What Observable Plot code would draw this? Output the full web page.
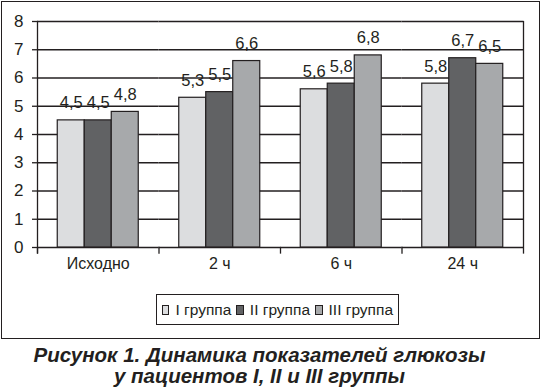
<!DOCTYPE html>
<html>
<head>
<meta charset="utf-8">
<script src="https://cdn.jsdelivr.net/npm/d3@7"></script>
<script src="https://cdn.jsdelivr.net/npm/@observablehq/plot@0.6"></script>
<style>
  html, body { margin: 0; padding: 0; background: #fff; }
  body { width: 543px; height: 391px; position: relative; overflow: hidden; font-family: "Liberation Sans", Arial, sans-serif; color: #231f20; }
  #box { position: absolute; left: 1px; top: 1px; width: 539px; height: 338px; border: 1.5px solid #231f20; box-sizing: border-box; pointer-events: none; }
  #chart { position: absolute; left: 0; top: 0; }
  #legend { position: absolute; left: 156px; top: 294px; width: 243px; height: 31px; border: 1.5px solid #231f20; box-sizing: border-box; display: flex; align-items: center; padding-left: 5px; font-size: 15.5px; background: #fff; white-space: nowrap; }
  #legend .sw { display: inline-block; width: 8px; height: 8px; border: 1px solid #231f20; margin-right: 6px; }
  #legend .lab { margin-right: 5px; }
  #caption { position: absolute; left: 0; top: 344px; width: 519px; text-align: center; font-weight: bold; font-style: italic; font-size: 20.5px; line-height: 21px; }
</style>
</head>
<body>
<div id="chart"></div>
<div id="box"></div>
<div id="legend"></div>
<div id="caption">Рисунок 1. Динамика показателей глюкозы<br>у пациентов I, II и III группы</div>
<script>
const categories = ["Исходно", "2 ч", "6 ч", "24 ч"];
const groups = ["I группа", "II группа", "III группа"];
const group1 = [4.5, 5.3, 5.6, 5.8];
const group2 = [4.5, 5.5, 5.8, 6.7];
const group3 = [4.8, 6.6, 6.8, 6.5];
const yTicks = [0, 1, 2, 3, 4, 5, 6, 7, 8];
const colors = ["#dcdddf", "#616264", "#a7a9ab"];
const ink = "#231f20";

const series = [group1, group2, group3];
const data = categories.flatMap((c, i) =>
  series.map((s, g) => ({category: c, group: groups[g], value: s[i]}))
);
const fmt = (v) => String(v).replace(".", ",");

const chart = Plot.plot({
  width: 543,
  height: 338,
  marginTop: 21,
  marginLeft: 37,
  marginRight: 20,
  marginBottom: 91,
  style: {fontFamily: "'Liberation Sans', Arial, sans-serif", fontSize: "16px", color: ink, background: "transparent", overflow: "visible"},
  fx: {domain: categories, padding: 0, round: false, label: null},
  x: {domain: groups, paddingInner: 0, paddingOuter: 0.75, round: false, axis: null},
  y: {domain: [0, 8]},
  color: {domain: groups, range: colors},
  marks: [
    Plot.ruleY(yTicks, {stroke: ink, strokeWidth: 1.3}),
    Plot.frame({anchor: "left", facetAnchor: "left", stroke: ink, strokeWidth: 1.3, insetBottom: -5.5}),
    Plot.frame({anchor: "right", facetAnchor: "right", stroke: ink, strokeWidth: 1.3, insetBottom: -5.5}),
    Plot.frame({anchor: "left", stroke: ink, strokeWidth: 1.3, insetTop: 226, insetBottom: -5.5}),
    Plot.barY(data, {fx: "category", x: "group", y: "value", fill: "group", stroke: ink, strokeWidth: 1.2}),
    Plot.text(data, {fx: "category", x: "group", y: "value", text: (d) => fmt(d.value), lineAnchor: "bottom", dy: -12, fontSize: 16.5, fill: ink}),
    Plot.axisY({ticks: yTicks, tickSize: 5, tickPadding: 9, fontSize: 17, label: null, stroke: ink, strokeWidth: 1.3}),
    Plot.axisFx({anchor: "bottom", tickSize: 0, tickPadding: 10, fontSize: 16, label: null})
  ]
});
document.getElementById("chart").appendChild(chart);

const legend = document.getElementById("legend");
groups.forEach((g, i) => {
  const sw = document.createElement("span");
  sw.className = "sw";
  sw.style.background = colors[i];
  const lab = document.createElement("span");
  lab.className = "lab";
  lab.textContent = g;
  legend.appendChild(sw);
  legend.appendChild(lab);
});
</script>
</body>
</html>
